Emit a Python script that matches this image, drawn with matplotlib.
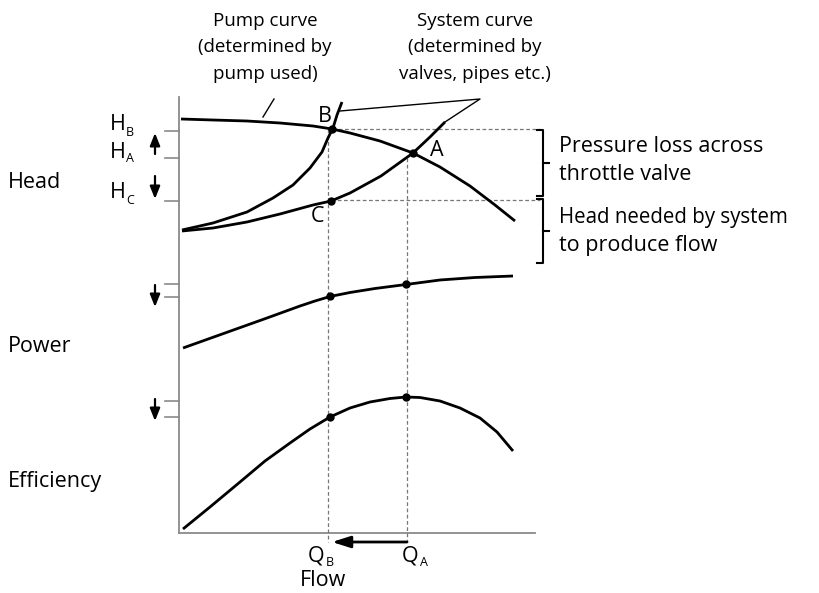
import matplotlib.pyplot as plt

plt.rcParams['font.family'] = ['Open Sans', 'DejaVu Sans']

# curves, in image pixels (x right, y down)
pump_x = [181, 213, 247, 280, 313, 332, 350, 380, 413, 440, 470, 495, 515]
pump_y = [119, 120, 121, 123, 126, 129, 133, 141, 153, 167, 186, 205, 221]

steep_x = [182, 213, 247, 273, 293, 310, 322, 328, 333, 337, 342]
steep_y = [230, 223, 212, 198, 185, 168, 152, 138, 128, 115, 102]

shallow_x = [182, 213, 247, 280, 313, 331, 350, 381, 413, 430, 445]
shallow_y = [231, 228, 222, 214, 205, 201, 193, 176, 153, 137, 122]

power_x = [183, 225, 267, 300, 315, 330, 350, 375, 406, 440, 475, 513]
power_y = [348, 333, 318, 306, 301, 296.5, 292.5, 288.5, 284.5, 280, 277.5, 276]

eff_x = [183, 210, 240, 265, 290, 310, 330, 350, 370, 390, 406, 420, 440, 460, 480, 497, 513]
eff_y = [529, 507, 482, 461, 443, 429, 417, 408, 402, 398.5, 397, 397.5, 401, 408, 418, 432, 451]

# operating points
dot_x = [332, 413, 331, 330, 406, 330, 406]
dot_y = [129, 153, 201, 296, 284, 417, 397]

q_b, q_a = 328, 407
h_levels = [131, 158, 201]
power_levels = [284, 297]
eff_levels = [401, 417]

fig = plt.figure(figsize=(8.19, 5.93), dpi=100)
ax = fig.add_axes([0, 0, 1, 1])
ax.set_xlim(0, 819)
ax.set_ylim(593, 0)
ax.axis('off')

gray = '#8a8a8a'
# axes lines
ax.plot([179, 179], [97, 533], color=gray, lw=1.3)
ax.plot([179, 535], [533, 533], color=gray, lw=1.3)

# level ticks on the left
for y in h_levels + power_levels + eff_levels:
    ax.plot([165, 179], [y, y], color=gray, lw=1.2)

# dashed guides
dash = dict(color='#777777', lw=0.9, ls=(0, (3, 2)))
ax.plot([q_b, q_b], [129, 542], **dash)
ax.plot([q_a, q_a], [158, 542], **dash)
ax.plot([332, 540], [129, 129], **dash)
ax.plot([331, 540], [200, 200], **dash)

# curves
lw = 2.0
for xs, ys in [(pump_x, pump_y), (steep_x, steep_y), (shallow_x, shallow_y),
               (power_x, power_y), (eff_x, eff_y)]:
    ax.plot(xs, ys, color='black', lw=lw, solid_capstyle='butt', solid_joinstyle='round')
ax.plot(dot_x, dot_y, 'o', color='black', ms=5)

# leader lines
ax.plot([263, 274], [117, 99], color='black', lw=1)
ax.plot([340, 480, 445], [111, 99, 122], color='black', lw=1)

# brackets
for top, bot in [(130, 196), (199, 263)]:
    mid = (top + bot) / 2
    ax.plot([537, 543, 543, 537], [top, top, bot, bot], color='black', lw=1.5)
    ax.plot([543, 549], [mid, mid], color='black', lw=1.5)

# arrows
arr = dict(arrowstyle='-|>,head_length=0.75,head_width=0.3', color='black', lw=1.6,
           shrinkA=0, shrinkB=0)
ax.annotate('', xy=(155, 133), xytext=(155, 154), arrowprops=arr)
ax.annotate('', xy=(155, 199), xytext=(155, 176), arrowprops=arr)
ax.annotate('', xy=(155, 307), xytext=(155, 285), arrowprops=arr)
ax.annotate('', xy=(155, 421), xytext=(155, 399), arrowprops=arr)
arr_q = dict(arr, arrowstyle='-|>,head_length=1.1,head_width=0.35', lw=2)
ax.annotate('', xy=(332, 542), xytext=(407, 542), arrowprops=arr_q)

fs_title = 13.5
fs = 15.5
# titles of the curves
for i, s in enumerate(['Pump curve', '(determined by', 'pump used)']):
    ax.text(265, 21 + 26.5 * i, s, ha='center', va='center', fontsize=fs_title)
for i, s in enumerate(['System curve', '(determined by', 'valves, pipes etc.)']):
    ax.text(475, 21 + 26.5 * i, s, ha='center', va='center', fontsize=fs_title)

ax.text(559, 147, 'Pressure loss across', va='center', fontsize=fs)
ax.text(559, 175, 'throttle valve', va='center', fontsize=fs)
ax.text(559, 217, 'Head needed by system', va='center', fontsize=14.8)
ax.text(559, 245, 'to produce flow', va='center', fontsize=fs)

ax.text(8, 182, 'Head', va='center', fontsize=fs)
ax.text(8, 346, 'Power', va='center', fontsize=fs)
ax.text(8, 481, 'Efficiency', va='center', fontsize=fs)

# point labels
ax.text(325, 116, 'B', ha='center', va='center', fontsize=fs)
ax.text(437, 150, 'A', ha='center', va='center', fontsize=fs)
ax.text(317, 217, 'C', ha='center', va='center', fontsize=fs)

# H and Q labels with small subscripts
def sub_label(x, y, main, sub, dx):
    ax.text(x, y, main, ha='left', va='center', fontsize=fs)
    ax.text(x + dx, y + 7, sub, ha='left', va='center', fontsize=9)

sub_label(110, 125, 'H', 'B', 16)
sub_label(110, 152, 'H', 'A', 16)
sub_label(110, 193, 'H', 'C', 16)
sub_label(308, 556, 'Q', 'B', 18)
sub_label(402, 556, 'Q', 'A', 18)
ax.text(323, 581, 'Flow', ha='center', va='center', fontsize=fs)

fig.savefig('out.png', dpi=100)
